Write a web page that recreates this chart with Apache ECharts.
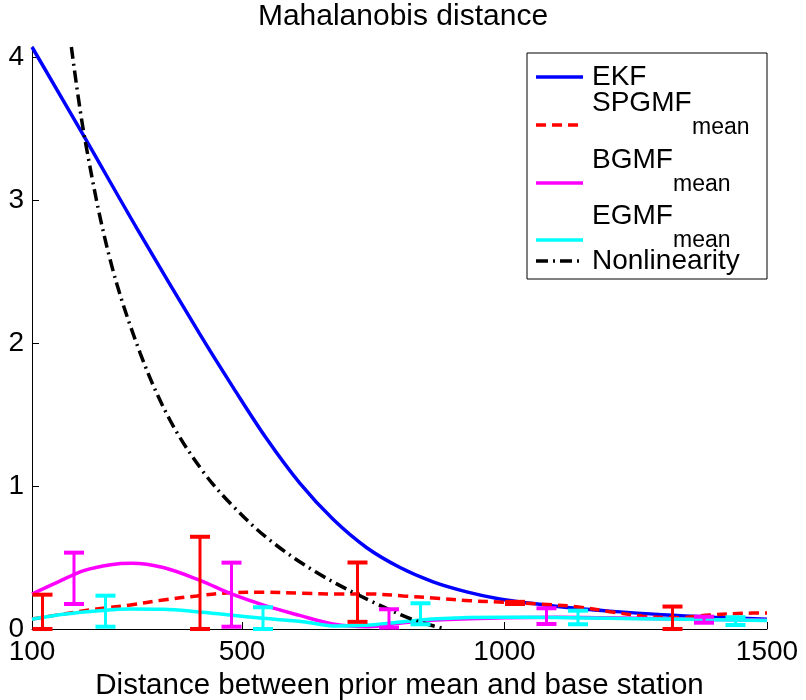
<!DOCTYPE html>
<html>
<head>
<meta charset="utf-8">
<script src="https://cdn.jsdelivr.net/npm/echarts@6/dist/echarts.min.js"></script>
<style>html,body{margin:0;padding:0;background:#fff}#c{width:806px;height:700px}</style>
</head>
<body>
<div id="c"></div>
<script>
// ---- data ----
const xTicks = [100, 500, 1000, 1500];
const yTicks = [0, 1, 2, 3, 4];

const ekfX = [100, 200, 300, 420, 483, 547, 610, 674, 737, 801, 864, 928, 991, 1050, 1120, 1200, 1300, 1400, 1500];
const ekfY = [4.07, 3.44, 2.80, 2.06, 1.69, 1.33, 1.02, 0.765, 0.57, 0.43, 0.33, 0.26, 0.21, 0.18, 0.15, 0.125, 0.10, 0.082, 0.068];

const spX = [100, 134, 223, 287, 350, 414, 477, 540, 616, 680, 744, 807, 871, 934, 997, 1073, 1137, 1201, 1264, 1328, 1391, 1455, 1500];
const spY = [0.07, 0.09, 0.14, 0.168, 0.203, 0.231, 0.254, 0.257, 0.25, 0.245, 0.245, 0.231, 0.215, 0.198, 0.187, 0.173, 0.156, 0.121, 0.09, 0.079, 0.098, 0.11, 0.112];

const bgX = [100, 150, 200, 250, 290, 350, 420, 480, 547, 610, 673, 740, 800, 870, 1000, 1100, 1200, 1300, 1400, 1500];
const bgY = [0.245, 0.33, 0.41, 0.45, 0.46, 0.43, 0.34, 0.245, 0.16, 0.095, 0.035, 0.016, 0.04, 0.063, 0.078, 0.082, 0.078, 0.072, 0.066, 0.062];

const egX = [100, 160, 223, 287, 350, 414, 477, 540, 616, 680, 744, 807, 871, 997, 1100, 1200, 1300, 1400, 1500];
const egY = [0.068, 0.103, 0.126, 0.14, 0.138, 0.121, 0.098, 0.075, 0.051, 0.021, 0.028, 0.051, 0.072, 0.082, 0.08, 0.075, 0.07, 0.065, 0.06];

const nlX = [175, 201, 249, 306, 363, 426, 480, 550, 640, 740, 830, 889];
const nlY = [4.07, 3.42, 2.58, 1.93, 1.46, 1.10, 0.87, 0.63, 0.40, 0.205, 0.06, 0.0];

const spErrX = [120, 420, 720, 1020, 1320];
const spErrLo = [0, 0, 0.05, 0.175, 0];
const spErrHi = [0.24, 0.645, 0.465, 0.19, 0.157];

const bgErrX = [180, 480, 780, 1080, 1380];
const bgErrLo = [0.175, 0.016, 0.01, 0.035, 0.044];
const bgErrHi = [0.534, 0.464, 0.138, 0.145, 0.086];

const egErrX = [240, 540, 840, 1140, 1440];
const egErrLo = [0.016, 0, 0.033, 0.033, 0.028];
const egErrHi = [0.233, 0.152, 0.18, 0.128, 0.082];

// ---- build ----
const zip = (xs, ys) => xs.map((x, i) => [x, ys[i]]);
const zip3 = (xs, lo, hi) => xs.map((x, i) => [x, lo[i], hi[i]]);
const FONT = '"Liberation Sans", Arial, Helvetica, sans-serif';

function errSeries(name, color, data) {
  return {
    name: name, type: 'custom', data: data, z: 3,
    renderItem: function (params, api) {
      const x = api.value(0), lo = api.value(1), hi = api.value(2);
      const a = api.coord([x, hi]), b = api.coord([x, lo]);
      const w = 10;
      return {
        type: 'group', children: [
          { type: 'line', shape: { x1: a[0], y1: a[1], x2: b[0], y2: b[1] }, style: { stroke: color, lineWidth: 3 } },
          { type: 'line', shape: { x1: a[0] - w, y1: a[1], x2: a[0] + w, y2: a[1] }, style: { stroke: color, lineWidth: 4 } },
          { type: 'line', shape: { x1: b[0] - w, y1: b[1], x2: b[0] + w, y2: b[1] }, style: { stroke: color, lineWidth: 4 } }
        ]
      };
    }
  };
}

function lineSeries(name, color, data, dash) {
  return {
    name: name, type: 'line', data: data, symbol: 'none', smooth: 0.35, z: 2,
    lineStyle: { color: color, width: 3.5, type: dash || 'solid' }
  };
}

const chart = echarts.init(document.getElementById('c'), null, { renderer: 'canvas' });

const LX1 = 536, LX2 = 583, TX = 592;
const legendItems = [
  { y: 77, color: '#0000ff', dash: null, main: 'EKF', sub: null, ty: 77 },
  { y: 125, color: '#ff0000', dash: [10, 6], main: 'SPGMF', sub: 'mean', ty: 103 },
  { y: 183, color: '#ff00ff', dash: null, main: 'BGMF', sub: 'mean', ty: 160 },
  { y: 240, color: '#00ffff', dash: null, main: 'EGMF', sub: 'mean', ty: 216 },
  { y: 261, color: '#000000', dash: [12, 5, 2, 5], main: 'Nonlinearity', sub: null, ty: 261 }
];
const subOffset = { 'SPGMF': 100, 'BGMF': 81, 'EGMF': 81 };
const graphics = [{
  type: 'rect', shape: { x: 527, y: 53, width: 240, height: 226 },
  style: { fill: '#fff', stroke: '#000', lineWidth: 1 }, z: 10
}];
legendItems.forEach(it => {
  graphics.push({
    type: 'line', shape: { x1: LX1, y1: it.y, x2: LX2, y2: it.y }, z: 11,
    style: { stroke: it.color, lineWidth: 3.5, lineDash: it.dash || null }
  });
  graphics.push({
    type: 'text', x: TX, y: it.ty, z: 11,
    style: { text: it.main, fill: '#000', font: '28px ' + FONT, textVerticalAlign: 'middle', textAlign: 'left' }
  });
  if (it.sub) {
    graphics.push({
      type: 'text', x: TX + subOffset[it.main], y: it.ty + 25, z: 11,
      style: { text: it.sub, fill: '#000', font: '23px ' + FONT, textVerticalAlign: 'middle', textAlign: 'left' }
    });
  }
});

chart.setOption({
  animation: false,
  backgroundColor: '#fff',
  textStyle: { fontFamily: FONT },
  title: {
    text: 'Mahalanobis distance', left: 'center', top: 0, padding: [2, 0, 0, 0],
    textStyle: { fontSize: 30, fontWeight: 'normal', color: '#000', fontFamily: FONT }
  },
  grid: { left: 32, right: 39, top: 47, bottom: 71, outerBoundsMode: 'none', containLabel: false },
  xAxis: {
    type: 'value', min: 100, max: 1500,
    name: 'Distance between prior mean and base station', nameLocation: 'middle', nameGap: 39,
    nameTextStyle: { fontSize: 29.5, color: '#000', fontFamily: FONT },
    axisLine: { show: true, onZero: false, lineStyle: { color: '#000', width: 1 } },
    axisTick: { show: true, inside: true, length: 7, customValues: xTicks, lineStyle: { color: '#000' } },
    axisLabel: { customValues: xTicks, formatter: v => String(v), fontSize: 28, color: '#000', margin: 9, fontFamily: FONT },
    splitLine: { show: false }
  },
  yAxis: {
    type: 'value', min: 0, max: 4.07,
    axisLine: { show: true, lineStyle: { color: '#000', width: 1 } },
    axisTick: { show: true, inside: true, length: 7, customValues: yTicks, lineStyle: { color: '#000' } },
    axisLabel: { customValues: yTicks, formatter: v => String(v), fontSize: 28, color: '#000', margin: 8, fontFamily: FONT },
    splitLine: { show: false }
  },
  graphic: graphics,
  series: [
    lineSeries('EKF', '#0000ff', zip(ekfX, ekfY)),
    lineSeries('SPGMF', '#ff0000', zip(spX, spY), [10, 6]),
    errSeries('SPGMF err', '#ff0000', zip3(spErrX, spErrLo, spErrHi)),
    lineSeries('BGMF', '#ff00ff', zip(bgX, bgY)),
    errSeries('BGMF err', '#ff00ff', zip3(bgErrX, bgErrLo, bgErrHi)),
    lineSeries('EGMF', '#00ffff', zip(egX, egY)),
    errSeries('EGMF err', '#00ffff', zip3(egErrX, egErrLo, egErrHi)),
    lineSeries('Nonlinearity', '#000000', zip(nlX, nlY), [12, 5, 2, 5])
  ]
});
</script>
</body>
</html>
